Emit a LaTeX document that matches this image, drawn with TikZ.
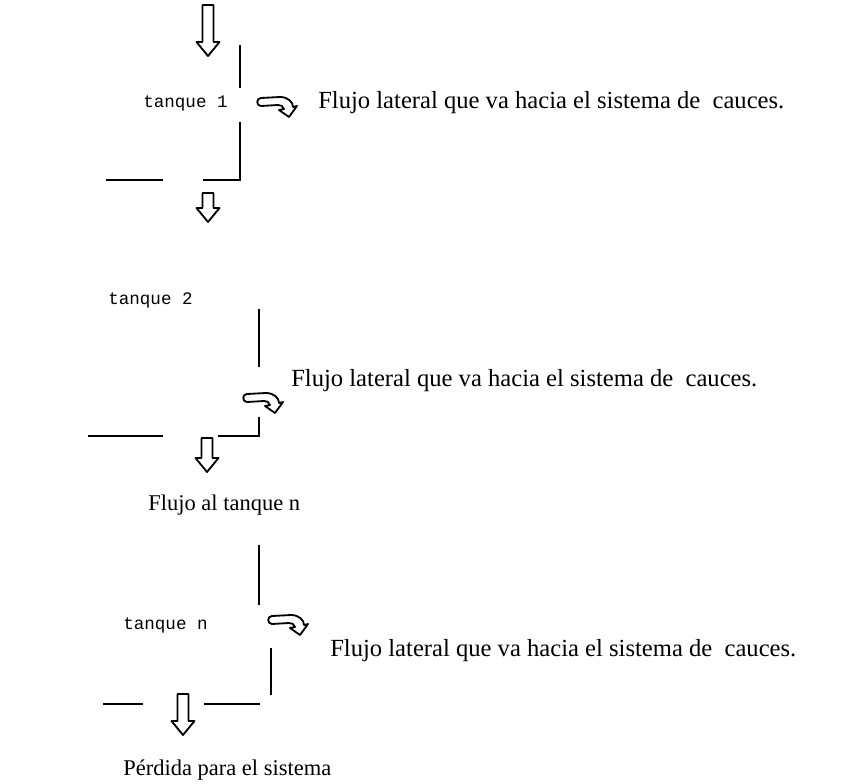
\documentclass[tikz,border=0pt]{standalone}
\usepackage{fontspec}
\setmainfont{Liberation Serif}
\setmonofont{Liberation Mono}
\usetikzlibrary{positioning}

% flecha de bloque hacia abajo: {x}{y arriba}{y punta}
\newcommand{\flechaabajo}[3]{%
  \draw [bloque] (#1-5.5, #2) -- (#1+5.5, #2) -- (#1+5.5, #3-14) -- (#1+11.5, #3-14)
    -- (#1, #3) -- (#1-11.5, #3-14) -- (#1-5.5, #3-14) -- cycle;}
% flecha curva de salida lateral: {x}{y}
\newcommand{\flechalateral}[2]{%
  \draw [bloque, shift = {(#1, #2)}] (4, -6) -- (23, -7) .. controls (31, -7) and (36, -2) .. (36, 3)
    -- (40, 2) -- (32, 13) -- (22, 6) -- (27, 5) .. controls (26, 2) and (24, 1) .. (21, 1)
    -- (4, 2) .. controls (-1, 2) and (-1, -6) .. (4, -6) -- cycle;}

\tikzset{
  pared/.style = {black, line width = 1.4pt},
  bloque/.style = {black, line width = 1.3pt, line join = round, fill = white},
  tanque/.style = {anchor = west, font = \ttfamily\fontsize{12.5}{14}\selectfont, inner sep = 0pt},
  texto/.style = {anchor = west, font = \fontsize{16}{19}\selectfont, inner sep = 0pt},
  lateral/.style = {texto, font = \fontsize{17.5}{21}\selectfont}
}

\begin{document}
\begin{tikzpicture}[x = 0.025cm, y = -0.025cm]
\useasboundingbox (0, 0) rectangle (850, 784);

% tanque 1
\flechaabajo{208}{5}{56}
\draw [pared] (240, 45) -- (240, 88);
\draw [pared] (240, 122) -- (240, 180) -- (203, 180);
\draw [pared] (106, 180) -- (163, 180);
\flechalateral{257}{104}
\flechaabajo{208}{193}{222}
\node [tanque] (t1) at (143, 103) {tanque 1};
\node [lateral] (l1) at (318, 103) {Flujo lateral que va hacia el sistema de~ cauces.};

% tanque 2
\draw [pared] (259, 309) -- (259, 367);
\draw [pared] (259, 417) -- (259, 436) -- (218, 436);
\draw [pared] (88, 436) -- (163, 436);
\flechalateral{243}{400}
\flechaabajo{207}{438}{472}
\node [tanque] (t2) at (108, 300) {tanque 2};
\node [lateral] (l2) at (291, 381) {Flujo lateral que va hacia el sistema de~ cauces.};
\node [texto] (fn) at (148, 505) {Flujo al tanque n};

% tanque n
\draw [pared] (259, 545) -- (259, 605);
\draw [pared] (271, 648) -- (271, 695);
\draw [pared] (204, 704) -- (260, 704);
\draw [pared] (103, 704) -- (143, 704);
\flechalateral{268}{622}
\flechaabajo{183}{694}{735}
\node [tanque] (tn) at (123, 625) {tanque n};
\node [lateral] (ln) at (330, 651) {Flujo lateral que va hacia el sistema de~ cauces.};
\node [texto] (pd) at (123, 770) {Pérdida para el sistema};
\end{tikzpicture}
\end{document}
